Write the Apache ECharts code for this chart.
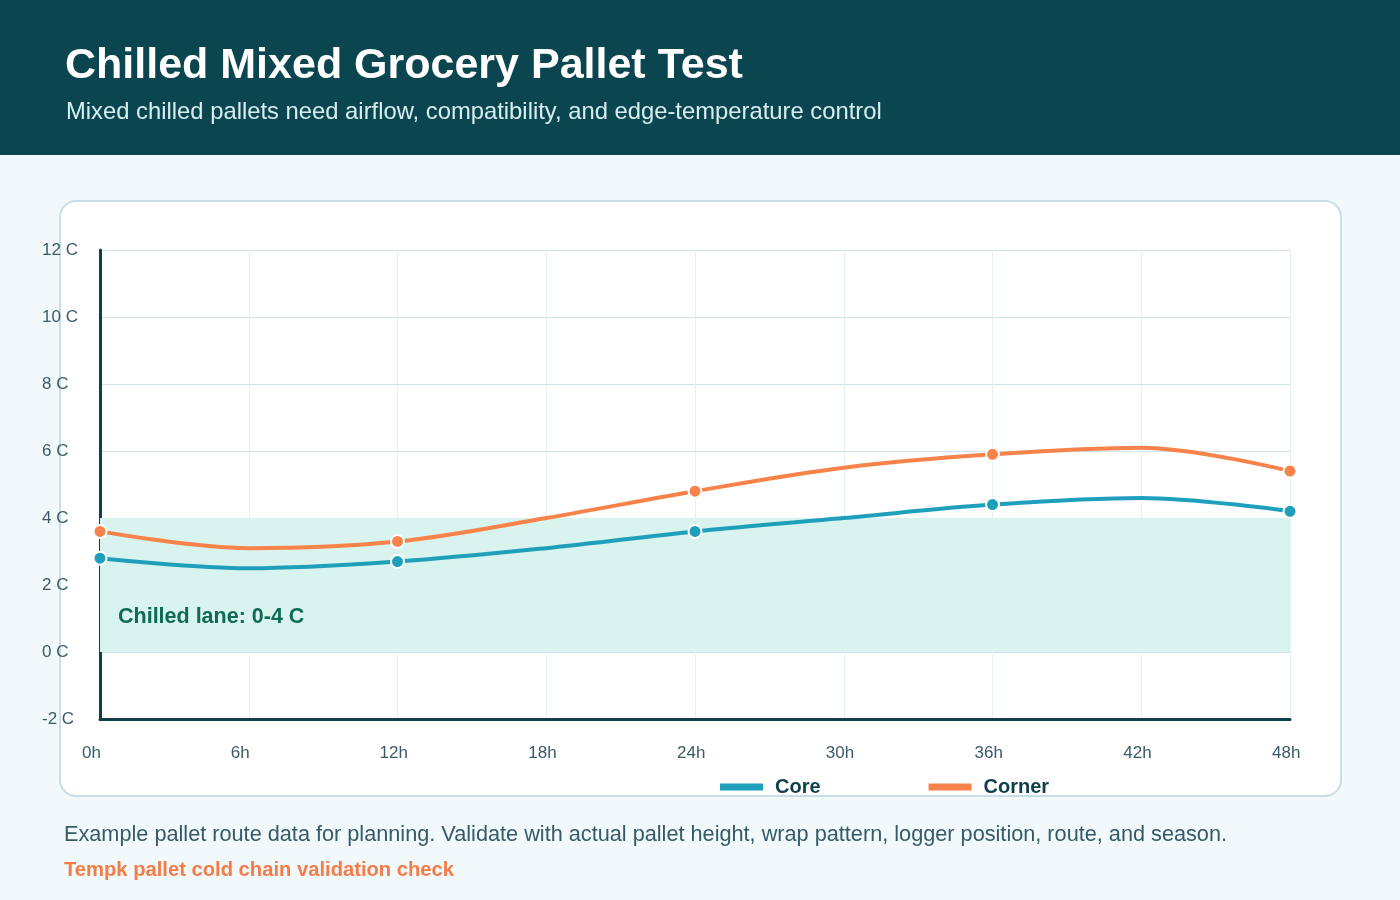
<!DOCTYPE html>
<html>
<head>
<meta charset="utf-8">
<script src="https://cdn.jsdelivr.net/npm/echarts@6/dist/echarts.min.js"></script>
<style>
  html, body { margin: 0; padding: 0; background: #f1f9fa; }
  #chart { width: 1400px; height: 900px; }
</style>
</head>
<body>
<div id="chart"></div>
<script>
const hours = ['0h', '6h', '12h', '18h', '24h', '30h', '36h', '42h', '48h']
const coreTemps = [2.8, 2.5, 2.7, 3.1, 3.6, 4.0, 4.4, 4.6, 4.2]
const cornerTemps = [3.6, 3.1, 3.3, 4.0, 4.8, 5.5, 5.9, 6.1, 5.4]
const chilledLane = [0, 4]

const chart = echarts.init(document.getElementById('chart'))

const font = 'Liberation Sans, Arial, sans-serif'
const markerSize = (v, p) => (p.dataIndex % 2 === 0 ? 13 : 0)

const option = {
  backgroundColor: '#f1f9fa',
  textStyle: { fontFamily: font },
  graphic: [
    { type: 'rect', shape: { x: 0, y: 0, width: 1400, height: 155 }, style: { fill: '#0b4650' }, z: -10 },
    { type: 'text', left: 65, top: 45, style: { text: 'Chilled Mixed Grocery Pallet Test', fill: '#ffffff', font: 'bold 43px ' + font } },
    { type: 'text', left: 66, top: 100, style: { text: 'Mixed chilled pallets need airflow, compatibility, and edge-temperature control', fill: '#d7eef0', font: '23.8px ' + font } },
    { type: 'rect', shape: { x: 60, y: 201, width: 1281, height: 595, r: 16 }, style: { fill: '#ffffff', stroke: '#c9dee5', lineWidth: 2 }, z: -10 },
    { type: 'text', left: 64, top: 824, style: { text: 'Example pallet route data for planning. Validate with actual pallet height, wrap pattern, logger position, route, and season.', fill: '#365a69', font: '21.7px ' + font } },
    { type: 'text', left: 64, top: 860, style: { text: 'Tempk pallet cold chain validation check', fill: '#f47c48', font: 'bold 20.2px ' + font } }
  ],
  grid: { left: 100, right: 110, top: 250, bottom: 181 },
  legend: {
    left: 720, top: 777, padding: 0,
    itemWidth: 43, itemHeight: 7, itemGap: 108,
    itemStyle: { borderWidth: 0 },
    lineStyle: { width: 0 },
    textStyle: { color: '#0f3f4c', fontSize: 20, fontWeight: 'bold', fontFamily: font, padding: [0, 0, 0, 7] },
    data: [{ name: 'Core', icon: 'rect' }, { name: 'Corner', icon: 'rect' }]
  },
  xAxis: {
    type: 'category',
    data: hours,
    boundaryGap: false,
    axisLine: { onZero: false, lineStyle: { color: '#0f3f4a', width: 3 } },
    axisTick: { show: false },
    axisLabel: { color: '#3b5b68', fontSize: 17, margin: 26, align: 'left', padding: [0, 0, 0, -18] },
    splitLine: { show: true, lineStyle: { color: '#e4f0f2', width: 1 } }
  },
  yAxis: {
    type: 'value',
    min: -2, max: 12, interval: 2,
    axisLine: { show: true, lineStyle: { color: '#0f3f4a', width: 3 } },
    axisTick: { show: false },
    axisLabel: { color: '#3b5b68', fontSize: 17, margin: 58, align: 'left', formatter: v => v + ' C', padding: [0, 0, 5, 0] },
    splitLine: { lineStyle: { color: '#cfe3ea', width: 1 } }
  },
  series: [
    {
      name: 'Core', type: 'line', data: coreTemps, smooth: 0.35,
      symbol: 'circle', symbolSize: markerSize,
      lineStyle: { color: '#209fbd', width: 4 },
      itemStyle: { color: '#209fbd', borderColor: '#ffffff', borderWidth: 2 },
      z: 3,
      markArea: {
        silent: true,
        itemStyle: { color: '#d9f3ee' },
        label: { show: true, position: [18, 88], color: '#0f6b56', fontSize: 21.5, fontWeight: 'bold', fontFamily: font },
        data: [[{ yAxis: chilledLane[0], name: 'Chilled lane: 0-4 C' }, { yAxis: chilledLane[1] }]]
      }
    },
    {
      name: 'Corner', type: 'line', data: cornerTemps, smooth: 0.35,
      symbol: 'circle', symbolSize: markerSize,
      lineStyle: { color: '#f8834a', width: 4 },
      itemStyle: { color: '#f8834a', borderColor: '#ffffff', borderWidth: 2 },
      z: 4
    }
  ]
}

chart.setOption(option)
</script>
</body>
</html>
